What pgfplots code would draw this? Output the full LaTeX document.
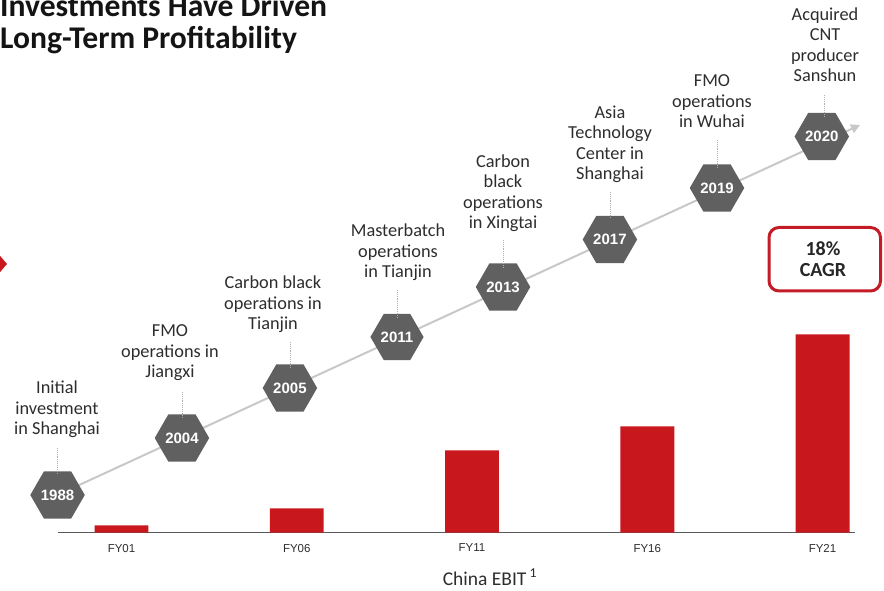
\documentclass[border=0pt]{standalone}
\usepackage{pgfplots}
\pgfplotsset{compat=1.18}
\usepackage{fontspec}
\setmainfont{Carlito}
\newfontfamily\arialf{Liberation Sans}
\usetikzlibrary{arrows.meta,shapes.geometric}
\definecolor{barred}{RGB}{200,24,30}
\definecolor{hexgray}{RGB}{96,96,96}
\definecolor{linegray}{RGB}{200,200,200}
\definecolor{dotgray}{RGB}{175,175,175}
\definecolor{labtext}{RGB}{45,45,45}
\definecolor{boxred}{RGB}{195,28,38}
\newcommand\lab{\fontsize{18.3bp}{20.5bp}\selectfont}
\begin{document}
\begin{tikzpicture}
\begin{axis}[
  at={(58bp,58.5bp)}, anchor=south west,
  scale only axis, width=797bp, height=432bp,
  xmin=-0.3623, xmax=4.1854, ymin=0, ymax=432,
  clip=false,
  axis y line=none, axis x line=bottom,
  x axis line style={-, draw=black!65, line width=1.3bp},
  xtick={0,1,2,3,4}, xticklabels={FY01,FY06,FY11,FY16,FY21},
  major tick length=0pt,
  xticklabel style={font=\arialf\fontsize{11.5bp}{13bp}\selectfont, text=labtext, yshift=-8bp},
  xlabel={China EBIT\,\textsuperscript{1}},
  xlabel style={at={(axis description cs:0.542,0)}, anchor=base, yshift=-52.5bp, font=\fontsize{19.5bp}{21bp}\selectfont, text=labtext},
]
\addplot[ybar, bar width=0.308, bar shift=0, fill=barred, draw=none] coordinates {(0,7) (1,24) (2,82) (3,106) (4,198)};
\addplot[linegray, line width=2bp, mark=none, -{Triangle[length=9bp,width=9bp]}] coordinates {(-0.365,37.5) (4.214,407.5)};
\addplot[draw=none, mark=none, nodes near coords, point meta=explicit symbolic, nodes near coords align=center,
  nodes near coords style={anchor=center, shape=regular polygon, regular polygon sides=6, minimum size=46bp, inner sep=0pt, fill=hexgray, text=white, font=\arialf\bfseries\fontsize{15bp}{17bp}\selectfont}]
 coordinates {(-0.365,37.5)[1988] (0.345,94.5)[2004] (0.961,144.5)[2005] (1.572,195.5)[2011] (2.177,245.5)[2013] (2.787,293)[2017] (3.398,344.5)[2019] (3.996,396)[2020]};
\end{axis}
\begin{scope}[x=1bp, y=-1bp, yshift=591bp]
  \fill[barred] (-5,250) -- (7,264) -- (-5,278) -- cycle;
  \node[anchor=base west, inner sep=0pt, font=\bfseries\fontsize{31.6bp}{33bp}\selectfont, text=black!92] at (0,16.5) {Investments Have Driven};
  \node[anchor=base west, inner sep=0pt, font=\bfseries\fontsize{31.6bp}{33bp}\selectfont, text=black!92] at (0,49) {Long-Term Profitability};
  \foreach \x/\a/\b in {57.5/448/473, 182/392/417, 290/342/368, 397/290/317, 503/240/267, 610/192/218, 717/140/167, 824/95/117}
    \draw[dotgray, densely dotted, line width=0.9bp] (\x,\a) -- (\x,\b);
  \tikzset{lbl/.style={anchor=south, inner sep=0pt, align=center, font=\lab, text=labtext}}
  \node[lbl] at (57,441.15) {Initial\\investment\\in Shanghai\strut};
  \node[lbl] at (170,384.15) {FMO\\operations in\\Jiangxi\strut};
  \node[lbl] at (273,336.15) {Carbon black\\operations in\\Tianjin\strut};
  \node[lbl] at (398,284.15) {Masterbatch\\operations\\in Tianjin\strut};
  \node[lbl] at (503,235.15) {Carbon\\black\\operations\\in Xingtai\strut};
  \node[lbl] at (610,186.15) {Asia\\Technology\\Center in\\Shanghai\strut};
  \node[lbl] at (712,134.15) {FMO\\operations\\in Wuhai\strut};
  \node[lbl] at (825,88.15) {Acquired\\CNT\\producer\\Sanshun\strut};
  \draw[boxred, line width=3bp, rounded corners=10bp] (769,227.5) rectangle (880.5,291);
  \node[anchor=base, inner sep=0pt, font=\bfseries\fontsize{20bp}{21bp}\selectfont, text=black!85] at (823,256) {18\%};
  \node[anchor=base, inner sep=0pt, font=\bfseries\fontsize{20bp}{21bp}\selectfont, text=black!85] at (823,277) {CAGR};
\end{scope}
\pgfresetboundingbox
\useasboundingbox (0,0) rectangle (884bp,591bp);
\end{tikzpicture}
\end{document}
